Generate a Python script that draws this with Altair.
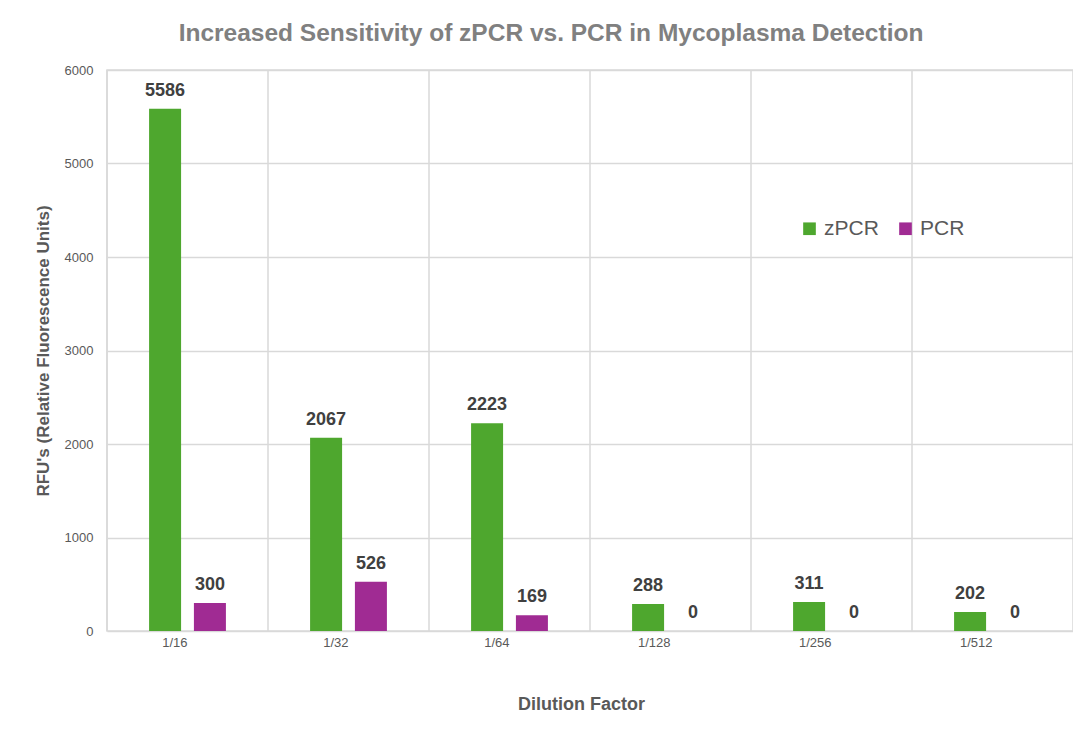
import altair as alt
import pandas as pd

categories = ["1/16", "1/32", "1/64", "1/128", "1/256", "1/512"]
series = ["zPCR", "PCR"]
zpcr_values = [5586, 2067, 2223, 288, 311, 202]
pcr_values = [300, 526, 169, 0, 0, 0]
y_ticks = [0, 1000, 2000, 3000, 4000, 5000, 6000]
colors = ["#4ea72e", "#a02b93"]

rows = []
for c, z, p in zip(categories, zpcr_values, pcr_values):
    rows.append({"Dilution": c, "Series": "zPCR", "Value": z})
    rows.append({"Dilution": c, "Series": "PCR", "Value": p})
df = pd.DataFrame(rows)
cat_df = pd.DataFrame({"Dilution": categories})

FONT = "Liberation Sans"

x_enc = alt.X("Dilution:N", sort=categories,
              scale=alt.Scale(paddingInner=0, paddingOuter=0),
              axis=alt.Axis(title="Dilution Factor", grid=False, ticks=False, domain=False,
                            labelAngle=0, labelFontSize=13, labelColor="#595959",
                            labelPadding=11, titleFontSize=18, titleFontWeight="bold",
                            titleColor="#595959", titlePadding=46, labelFont=FONT, titleFont=FONT,
                            titleX=474, titleAlign="center"))
y_enc = alt.Y("Value:Q", scale=alt.Scale(domain=[0, 6000], nice=False),
              axis=alt.Axis(title="RFU's (Relative Fluorescence Units)", values=y_ticks,
                            format="d",
                            grid=True, gridColor="#d9d9d9", gridWidth=1.5, ticks=False,
                            domain=False, labelFontSize=13, labelColor="#595959",
                            labelPadding=14, titleFontSize=17, titleFontWeight="bold",
                            titleColor="#595959", titlePadding=12, labelFont=FONT, titleFont=FONT))
xoff = alt.XOffset("Series:N", sort=series,
                   scale=alt.Scale(paddingInner=0.289, paddingOuter=0.94))
color_enc = alt.Color("Series:N", sort=series,
                      scale=alt.Scale(domain=series, range=colors),
                      legend=alt.Legend(title=None, orient="none", direction="horizontal",
                                        legendX=692, legendY=148, symbolType="square",
                                        symbolSize=160, symbolStrokeWidth=0,
                                        labelFontSize=21, labelColor="#595959",
                                        labelFont=FONT, columnPadding=16, symbolOffset=0))

vgrid = alt.Chart(cat_df).mark_rule(color="#d9d9d9", strokeWidth=1.5).encode(
    x=alt.X("Dilution:N", sort=categories, bandPosition=0,
            scale=alt.Scale(paddingInner=0, paddingOuter=0)),
)

bars = alt.Chart(df).mark_bar(width=32).encode(
    x=x_enc, y=y_enc, xOffset=xoff, color=color_enc
)

labels = alt.Chart(df).mark_text(baseline="bottom", dy=-9, fontSize=18,
                                 fontWeight="bold", color="#404040", font=FONT).encode(
    x=alt.X("Dilution:N", sort=categories), xOffset=xoff, y="Value:Q",
    text=alt.Text("Value:Q", format="d")
)

chart = alt.layer(vgrid, bars, labels).properties(
    width=966, height=561,
    title=alt.Title("Increased Sensitivity of zPCR vs. PCR in Mycoplasma Detection",
                    fontSize=24.5, fontWeight="bold", color="#808080", font=FONT,
                    anchor="middle", offset=18, dx=-39),
    autosize=alt.AutoSizeParams(type="none"),
    padding={"left": 99, "top": 62, "right": 0, "bottom": 100},
    background="white",
).configure_view(stroke="#d9d9d9", strokeWidth=1.5)

chart.save("out.html", embed_options={"renderer": "svg", "actions": False})
